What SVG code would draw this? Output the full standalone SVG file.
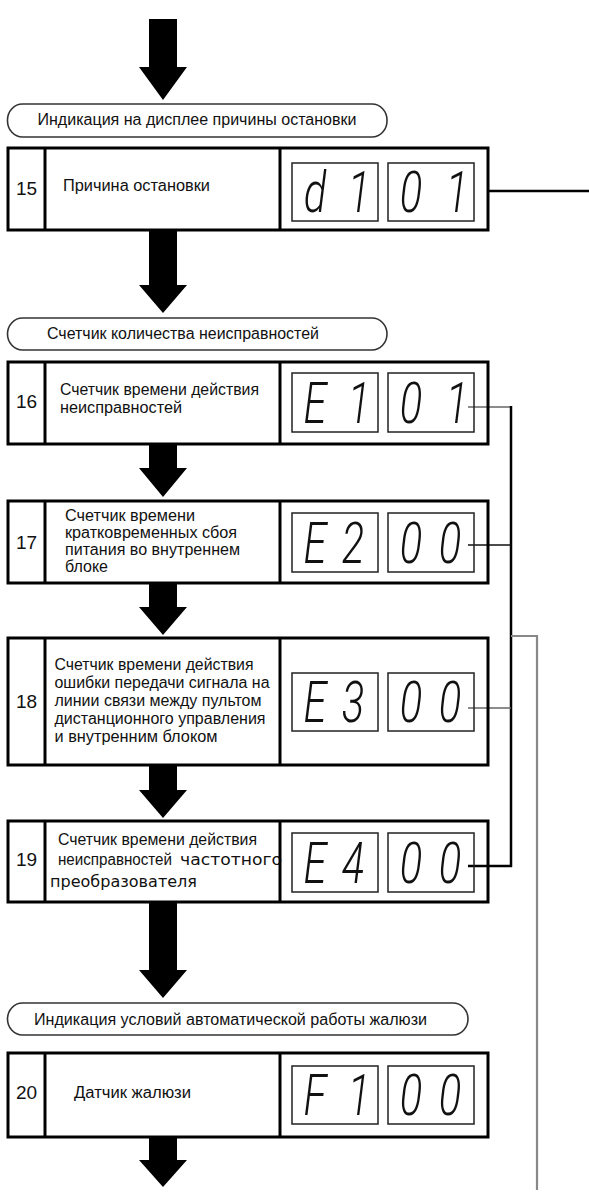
<svg xmlns="http://www.w3.org/2000/svg" width="589" height="1192" viewBox="0 0 589 1192">
<style>
.bg{fill:#fff}
.lbl{font-family:"Liberation Sans",Arial,sans-serif;font-size:16px;fill:#111}
.alt{font-family:"DejaVu Sans",Verdana,sans-serif;font-size:15px;fill:#111}
.num{font-family:"Liberation Sans",Arial,sans-serif;font-size:19px;fill:#111;text-anchor:middle}
.seg{font-family:Roboto,"Liberation Sans",Arial,sans-serif;font-style:italic;font-weight:300;font-size:58px;fill:#111;text-anchor:middle}
.frame{fill:none;stroke:#000;stroke-width:3}
.div{stroke:#000;stroke-width:3}
.disp{fill:none;stroke:#222;stroke-width:1.5}
.banner{fill:#fff;stroke:#333;stroke-width:1.6}
.arrow{fill:#000}
.wire{fill:none;stroke:#000;stroke-width:2.5}
.wthin{fill:none;stroke:#111;stroke-width:1.5}
.wgray{fill:none;stroke:#666;stroke-width:1.6}
.wgray2{fill:none;stroke:#888;stroke-width:2.2}
</style>
<rect class="bg" x="0" y="0" width="589" height="1192"/>

<g id="connectors">
  <path class="arrow" d="M149,19 H177 V67 H187 L163,100 L139,67 H149 Z"/>
  <path class="arrow" d="M149,231 H177 V285 H187 L163,313 L139,285 H149 Z"/>
  <path class="arrow" d="M149,444 H177 V468 H187 L163,497 L139,468 H149 Z"/>
  <path class="arrow" d="M149,583 H177 V607 H187 L163,635 L139,607 H149 Z"/>
  <path class="arrow" d="M149,765 H177 V790 H187 L163,818 L139,790 H149 Z"/>
  <path class="arrow" d="M149,902 H177 V970 H187 L163,998 L139,970 H149 Z"/>
  <path class="arrow" d="M149,1137 H177 V1160 H187 L163,1187 L139,1160 H149 Z"/>
  <line class="wire" x1="488" y1="191" x2="589" y2="191"/>
  <line class="wgray" x1="468" y1="407" x2="511" y2="407"/>
  <line class="wire" x1="511" y1="406" x2="511" y2="867"/>
  <line class="wthin" x1="468" y1="545" x2="511" y2="545"/>
  <line class="wgray" x1="468" y1="708" x2="511" y2="708"/>
  <line class="wire" x1="468" y1="866" x2="512" y2="866"/>
  <path class="wgray2" d="M511,636 H537 V1190"/>
</g>

<g id="banner1">
  <rect class="banner" x="7.5" y="104" width="379.5" height="33" rx="15" ry="16"/>
  <text class="lbl" x="37.5" y="125" textLength="319" lengthAdjust="spacingAndGlyphs">Индикация на дисплее причины остановки</text>
</g>

<g id="row15">
  <text class="num" x="26.5" y="195">15</text>
  <text class="lbl" x="63" y="191" textLength="147" lengthAdjust="spacingAndGlyphs">Причина остановки</text>
  <rect class="frame" x="8" y="148" width="480" height="82"/>
  <line class="div" x1="45" y1="148" x2="45" y2="230"/>
  <line class="div" x1="280" y1="148" x2="280" y2="230"/>
  <rect class="disp" x="292" y="163" width="86" height="58"/>
  <rect class="disp" x="388" y="163" width="86" height="58"/>
  <text class="seg" transform="scale(0.72,1)"><tspan x="437.5" y="212">d</tspan><tspan x="498.6" y="212">1</tspan></text>
  <text class="seg" transform="scale(0.72,1)"><tspan x="570.8" y="212">0</tspan><tspan x="634.7" y="212">1</tspan></text>
</g>

<g id="banner2">
  <rect class="banner" x="7.5" y="318" width="379.5" height="32" rx="15" ry="16"/>
  <text class="lbl" x="47" y="339" textLength="272" lengthAdjust="spacingAndGlyphs">Счетчик количества неисправностей</text>
</g>

<g id="row16">
  <text class="num" x="26.5" y="408">16</text>
  <text class="lbl" x="60" y="395" textLength="199" lengthAdjust="spacingAndGlyphs">Счетчик времени действия</text>
  <text class="lbl" x="60" y="413" textLength="122" lengthAdjust="spacingAndGlyphs">неисправностей</text>
  <rect class="frame" x="8" y="362" width="480" height="82"/>
  <line class="div" x1="45" y1="362" x2="45" y2="444"/>
  <line class="div" x1="280" y1="362" x2="280" y2="444"/>
  <rect class="disp" x="292" y="373" width="86" height="59"/>
  <rect class="disp" x="388" y="373" width="86" height="59"/>
  <text class="seg" transform="scale(0.72,1)"><tspan x="437.5" y="423">E</tspan><tspan x="498.6" y="423">1</tspan></text>
  <text class="seg" transform="scale(0.72,1)"><tspan x="570.8" y="423">0</tspan><tspan x="634.7" y="423">1</tspan></text>
</g>

<g id="row17">
  <text class="num" x="26.5" y="549">17</text>
  <text class="lbl" x="65" y="521" textLength="130" lengthAdjust="spacingAndGlyphs">Счетчик времени</text>
  <text class="lbl" x="65" y="538" textLength="172" lengthAdjust="spacingAndGlyphs">кратковременных сбоя</text>
  <text class="lbl" x="65" y="555" textLength="175" lengthAdjust="spacingAndGlyphs">питания во внутреннем</text>
  <text class="lbl" x="65" y="572" textLength="43" lengthAdjust="spacingAndGlyphs">блоке</text>
  <rect class="frame" x="8" y="501" width="480" height="82"/>
  <line class="div" x1="45" y1="501" x2="45" y2="583"/>
  <line class="div" x1="280" y1="501" x2="280" y2="583"/>
  <rect class="disp" x="292" y="513" width="86" height="59"/>
  <rect class="disp" x="388" y="513" width="86" height="59"/>
  <text class="seg" transform="scale(0.72,1)"><tspan x="437.5" y="563">E</tspan><tspan x="490.3" y="563">2</tspan></text>
  <text class="seg" transform="scale(0.72,1)"><tspan x="570.8" y="563">0</tspan><tspan x="625" y="563">0</tspan></text>
</g>

<g id="row18">
  <text class="num" x="26.5" y="708">18</text>
  <text class="lbl" x="54.5" y="670" textLength="199" lengthAdjust="spacingAndGlyphs">Счетчик времени действия</text>
  <text class="lbl" x="54.5" y="688" textLength="215" lengthAdjust="spacingAndGlyphs">ошибки передачи сигнала на</text>
  <text class="lbl" x="54.5" y="706" textLength="207" lengthAdjust="spacingAndGlyphs">линии связи между пультом</text>
  <text class="lbl" x="54.5" y="724" textLength="211" lengthAdjust="spacingAndGlyphs">дистанционного управления</text>
  <text class="lbl" x="54.5" y="742" textLength="163" lengthAdjust="spacingAndGlyphs">и внутренним блоком</text>
  <rect class="frame" x="8" y="638" width="480" height="127"/>
  <line class="div" x1="45" y1="638" x2="45" y2="765"/>
  <line class="div" x1="280" y1="638" x2="280" y2="765"/>
  <rect class="disp" x="292" y="673" width="86" height="58"/>
  <rect class="disp" x="388" y="673" width="86" height="58"/>
  <text class="seg" transform="scale(0.72,1)"><tspan x="437.5" y="722">E</tspan><tspan x="490.3" y="722">3</tspan></text>
  <text class="seg" transform="scale(0.72,1)"><tspan x="570.8" y="722">0</tspan><tspan x="625" y="722">0</tspan></text>
</g>

<g id="row19">
  <text class="num" x="26.5" y="866">19</text>
  <text class="lbl" x="58" y="845" textLength="199" lengthAdjust="spacingAndGlyphs">Счетчик времени действия</text>
  <text class="lbl" x="58" y="865" textLength="114" lengthAdjust="spacingAndGlyphs">неисправностей</text>
  <text class="alt" x="180" y="865" textLength="102" lengthAdjust="spacingAndGlyphs">частотного</text>
  <text class="alt" x="50" y="887" textLength="147" lengthAdjust="spacingAndGlyphs">преобразователя</text>
  <rect class="frame" x="8" y="821" width="480" height="81"/>
  <line class="div" x1="45" y1="821" x2="45" y2="902"/>
  <line class="div" x1="280" y1="821" x2="280" y2="902"/>
  <rect class="disp" x="292" y="833" width="86" height="59"/>
  <rect class="disp" x="388" y="833" width="86" height="59"/>
  <text class="seg" transform="scale(0.72,1)"><tspan x="437.5" y="883">E</tspan><tspan x="490.3" y="883">4</tspan></text>
  <text class="seg" transform="scale(0.72,1)"><tspan x="570.8" y="883">0</tspan><tspan x="625" y="883">0</tspan></text>
</g>

<g id="banner3">
  <rect class="banner" x="7.5" y="1003" width="460.5" height="32" rx="15" ry="16"/>
  <text class="lbl" x="34" y="1025" textLength="393" lengthAdjust="spacingAndGlyphs">Индикация условий автоматической работы жалюзи</text>
</g>

<g id="row20">
  <text class="num" x="26.5" y="1099">20</text>
  <text class="lbl" x="74" y="1098" textLength="117" lengthAdjust="spacingAndGlyphs">Датчик жалюзи</text>
  <rect class="frame" x="8" y="1053" width="480" height="84"/>
  <line class="div" x1="45" y1="1053" x2="45" y2="1137"/>
  <line class="div" x1="280" y1="1053" x2="280" y2="1137"/>
  <rect class="disp" x="292" y="1066" width="86" height="58"/>
  <rect class="disp" x="388" y="1066" width="86" height="58"/>
  <text class="seg" transform="scale(0.72,1)"><tspan x="437.5" y="1115">F</tspan><tspan x="498.6" y="1115">1</tspan></text>
  <text class="seg" transform="scale(0.72,1)"><tspan x="570.8" y="1115">0</tspan><tspan x="625" y="1115">0</tspan></text>
</g>
</svg>
